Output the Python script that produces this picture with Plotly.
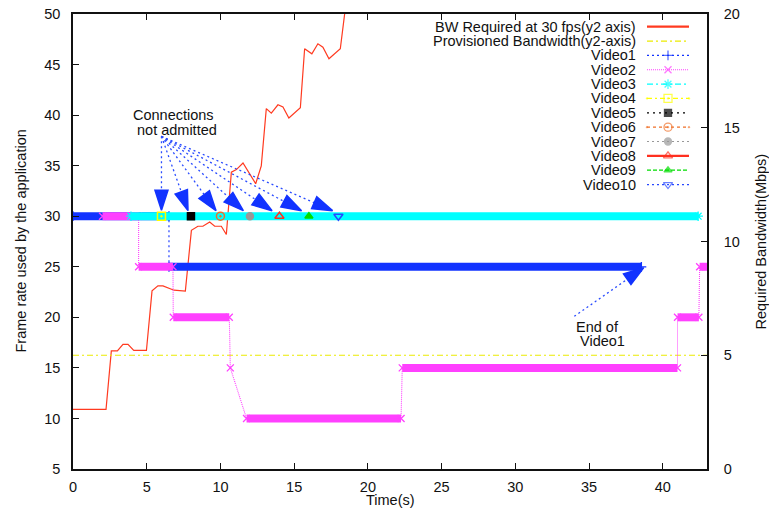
import plotly.graph_objects as go

# ---------------- data ----------------
time_bw = [0, 2.24, 2.6, 3.01, 3.39, 3.73, 4.12, 4.98, 5.36, 5.76, 6.10, 6.85, 7.62,
           8.03, 8.47, 8.81, 9.27, 9.61, 10.06, 10.4, 10.74, 11.08, 11.53, 12.39,
           12.77, 13.11, 13.45, 13.9, 14.24, 14.64, 15.42, 15.71, 16.2, 16.61,
           16.95, 17.36, 18.13, 18.5]
bw_mbps = [2.62, 2.62, 5.19, 5.19, 5.48, 5.48, 5.21, 5.21, 7.83, 8.05, 8.05, 7.86, 7.82,
           10.49, 10.67, 10.67, 10.86, 10.67, 10.67, 10.31, 13.05, 13.16, 13.45, 12.54,
           13.32, 15.84, 15.64, 16.01, 15.91, 15.43, 15.88, 18.47, 18.25, 18.69,
           18.54, 18.03, 18.47, 20.4]

prov_t = [0, 43]
prov_bw = [5, 5]

video1_t = [0, 6.51, 6.51, 38.55]
video1_fps = [30, 30, 25, 25]
video2_t = [2.0, 4.45, 4.45, 6.78, 6.8, 10.6, 10.67, 11.77, 22.25, 22.33, 41.0, 41.0, 42.45, 42.5, 43.0]
video2_fps = [30, 30, 25, 25, 20, 20, 15, 10, 10, 15, 15, 20, 20, 25, 25]
video3_t = [3.93, 42.4]
video3_fps = [30, 30]
video4_t, video4_fps = [6], [30]
video5_t, video5_fps = [8], [30]
video6_t, video6_fps = [10], [30]
video7_t, video7_fps = [12], [30]
video8_t, video8_fps = [14], [30]
video9_t, video9_fps = [16], [30]
video10_t, video10_fps = [18], [30]

arrow_tail_t, arrow_tail_fps = 6.0, 37.9
arrow_tip_t = [6.0, 7.8, 9.7, 11.55, 13.5, 15.5, 17.6]
arrow_tip_fps = [30.6, 30.55, 30.55, 30.55, 30.55, 30.55, 30.55]
end_arrow_t = [34.0, 38.7]
end_arrow_fps = [20.1, 24.9]

x_ticks = [0, 5, 10, 15, 20, 25, 30, 35, 40]
y_ticks = [5, 10, 15, 20, 25, 30, 35, 40, 45, 50]
y2_ticks = [0, 5, 10, 15, 20]

legend_labels = ["BW Required at 30 fps(y2 axis)", "Provisioned Bandwidth(y2-axis)",
                 "Video1", "Video2", "Video3", "Video4", "Video5", "Video6",
                 "Video7", "Video8", "Video9", "Video10"]

# ---------------- styles ----------------
FONT = "Liberation Sans, Arial, Helvetica, sans-serif"
FS = 14.5
RED = "#ff3a20"
PROV = "#ecec00"
BLUE = "#1233ff"

videos = [
    # t, fps, color, dash, symbol, marker size
    (video1_t, video1_fps, BLUE, "2px,3px", "cross-thin-open", 7),
    (video2_t, video2_fps, "#ff40ff", "1px,1px", "x-thin-open", 7),
    (video3_t, video3_fps, "#00ffff", "6px,3px,2px,3px", "asterisk-open", 8),
    (video4_t, video4_fps, "#ffff00", "5px,3px,2px,3px", "square-open-dot", 8),
    (video5_t, video5_fps, "#000000", "2px,4px", "square", 7),
    (video6_t, video6_fps, "#f07028", "3px,3px", "circle-open-dot", 8),
    (video7_t, video7_fps, "#999999", "2px,3px", "circle", 7),
    (video8_t, video8_fps, "#ff3020", None, "triangle-up-open", 8),
    (video9_t, video9_fps, "#00dd00", "4px,2px", "triangle-up", 7),
    (video10_t, video10_fps, "#2848ff", "2px,3px", "triangle-down-open", 8),
]

L, R, T, B = 73, 707, 14, 469
PW, PH = R - L, B - T


def fx(px):
    return (px - L) / PW


def fy(py):
    return (B - py) / PH


fig = go.Figure()

# bandwidth traces (primary y = right axis, drawn underneath)
fig.add_trace(go.Scatter(x=time_bw, y=bw_mbps, mode="lines", xaxis="x", yaxis="y",
                         line=dict(color=RED, width=1.2), showlegend=False,
                         name=legend_labels[0]))
fig.add_trace(go.Scatter(x=prov_t, y=prov_bw, mode="lines", xaxis="x", yaxis="y",
                         line=dict(color=PROV, width=1.2, dash="6px,3px,2px,3px"),
                         showlegend=False, name=legend_labels[1]))

# video traces on frame-rate axis (y2, left)
for i, (t, f, col, dash, sym, ms) in enumerate(videos):
    name = legend_labels[2 + i]
    if len(t) > 1:
        bx, by = [], []
        for k in range(len(t) - 1):
            if f[k] == f[k + 1] and t[k + 1] > t[k]:
                bx += [t[k], t[k + 1], None]
                by += [f[k], f[k + 1], None]
        fig.add_trace(go.Scatter(x=bx, y=by, mode="lines", xaxis="x", yaxis="y2",
                                 line=dict(color=col, width=8), showlegend=False,
                                 name=name, hoverinfo="skip"))
        fig.add_trace(go.Scatter(x=t, y=f, mode="lines+markers", xaxis="x", yaxis="y2",
                                 line=dict(color=col, width=1.1, dash=dash or "solid"),
                                 marker=dict(symbol=sym, size=ms, color=col,
                                             line=dict(color=col, width=1.3)),
                                 showlegend=False, name=name))
    else:
        fig.add_trace(go.Scatter(x=t, y=f, mode="markers", xaxis="x", yaxis="y2",
                                 marker=dict(symbol=sym, size=ms, color=col,
                                             line=dict(color=col, width=1.5)),
                                 showlegend=False, name=name))

# arrows: dotted shafts, then solid heads (separate traces so heads sit on top)
ARROW = "#2a4cff"
arrow_lines = [([arrow_tail_t, tt], [arrow_tail_fps, tf])
               for tt, tf in zip(arrow_tip_t, arrow_tip_fps)] + [(end_arrow_t, end_arrow_fps)]
for ax_, ay_ in arrow_lines:
    fig.add_trace(go.Scatter(x=ax_, y=ay_, mode="lines", xaxis="x", yaxis="y2",
                             line=dict(color=ARROW, width=1.3, dash="2px,3px"),
                             showlegend=False, hoverinfo="skip"))
for ax_, ay_ in arrow_lines:
    fig.add_trace(go.Scatter(x=ax_, y=ay_, mode="markers", xaxis="x", yaxis="y2",
                             opacity=1,
                             marker=dict(symbol="arrow", size=[0, 21], angleref="previous",
                                         color=BLUE, opacity=1,
                                         line=dict(color=BLUE, width=1.5)),
                             showlegend=False, hoverinfo="skip"))

# custom legend (text left of sample, as in the original)
leg_x0, leg_xm, leg_x1 = fx(647), fx(668), fx(689)
leg_text_x = fx(637.5)
annotations = []
styles = [(RED, None, None, 8), (PROV, "6px,3px,2px,3px", None, 8)] + \
         [(c, d, s, m) for (_, _, c, d, s, m) in videos]
for i, lab in enumerate(legend_labels):
    py = 26.7 + 14.35 * i
    yy = fy(py)
    col, dash, sym, ms = styles[i]
    lw = 2.2 if i == 0 or i == 9 else 1.2
    if sym is None:
        fig.add_trace(go.Scatter(x=[leg_x0, leg_x1], y=[yy, yy], mode="lines",
                                 xaxis="x3", yaxis="y3",
                                 line=dict(color=col, width=lw, dash=dash or "solid"),
                                 showlegend=False, hoverinfo="skip"))
    else:
        fig.add_trace(go.Scatter(x=[leg_x0, leg_xm, leg_x1], y=[yy, yy, yy],
                                 mode="lines+markers", xaxis="x3", yaxis="y3",
                                 line=dict(color=col, width=lw, dash=dash or "solid"),
                                 marker=dict(symbol=sym, size=[0, ms, 0], color=col,
                                             line=dict(color=col, width=1.3)),
                                 showlegend=False, hoverinfo="skip"))
    annotations.append(dict(text=lab, xref="paper", yref="paper", x=leg_text_x, y=yy,
                            xanchor="right", yanchor="middle", showarrow=False,
                            font=dict(family=FONT, size=FS, color="#111")))

# text labels
for txt, x, y in [("Connections", 3.96, 40.0), ("not admitted", 4.23, 38.55),
                  ("End of", 34.0, 19.0), ("Video1", 34.28, 17.66)]:
    annotations.append(dict(text=txt, x=x, y=y, xref="x", yref="y2", xanchor="left",
                            yanchor="middle", showarrow=False,
                            font=dict(family=FONT, size=FS, color="#111")))

# axis titles
annotations.append(dict(text="Frame rate used by the application", xref="paper", yref="paper",
                        x=fx(20), y=0.5, textangle=-90, showarrow=False,
                        xanchor="center", yanchor="middle",
                        font=dict(family=FONT, size=FS, color="#111")))
annotations.append(dict(text="Required Bandwidth(Mbps)", xref="paper", yref="paper",
                        x=fx(760), y=0.5, textangle=-90, showarrow=False,
                        xanchor="center", yanchor="middle",
                        font=dict(family=FONT, size=FS, color="#111")))
annotations.append(dict(text="Time(s)", xref="paper", yref="paper",
                        x=0.5, y=fy(500), showarrow=False,
                        xanchor="center", yanchor="middle",
                        font=dict(family=FONT, size=FS, color="#111")))

axis_common = dict(showline=True, linecolor="#111", linewidth=1.5, ticks="inside",
                   ticklen=6, tickwidth=1, tickcolor="#111", showgrid=False,
                   zeroline=False, tickfont=dict(family=FONT, size=FS, color="#111"),
                   fixedrange=True, automargin=False)

fig.update_layout(
    width=769, height=515,
    margin=dict(l=L, r=769 - R, t=T, b=515 - B, pad=0, autoexpand=False),
    paper_bgcolor="white", plot_bgcolor="white",
    showlegend=False,
    font=dict(family=FONT, size=FS, color="#111"),
    xaxis=dict(range=[0, 43], tickvals=x_ticks, mirror="ticks", anchor="y",
               ticklabelstandoff=4, **axis_common),
    yaxis=dict(range=[0, 20], tickvals=y2_ticks, side="right", anchor="x",
               ticklabelstandoff=12, **axis_common),
    yaxis2=dict(range=[5, 50], tickvals=y_ticks, side="left", overlaying="y", anchor="x",
                ticklabelstandoff=8, **axis_common),
    xaxis3=dict(range=[0, 1], overlaying="x", anchor="y3", visible=False, fixedrange=True),
    yaxis3=dict(range=[0, 1], overlaying="y", anchor="x3", visible=False, fixedrange=True),
    annotations=annotations,
)

fig.write_html("out.html", config={"displayModeBar": False},
               post_script="document.body.style.margin='0';document.body.style.overflow='hidden';")
